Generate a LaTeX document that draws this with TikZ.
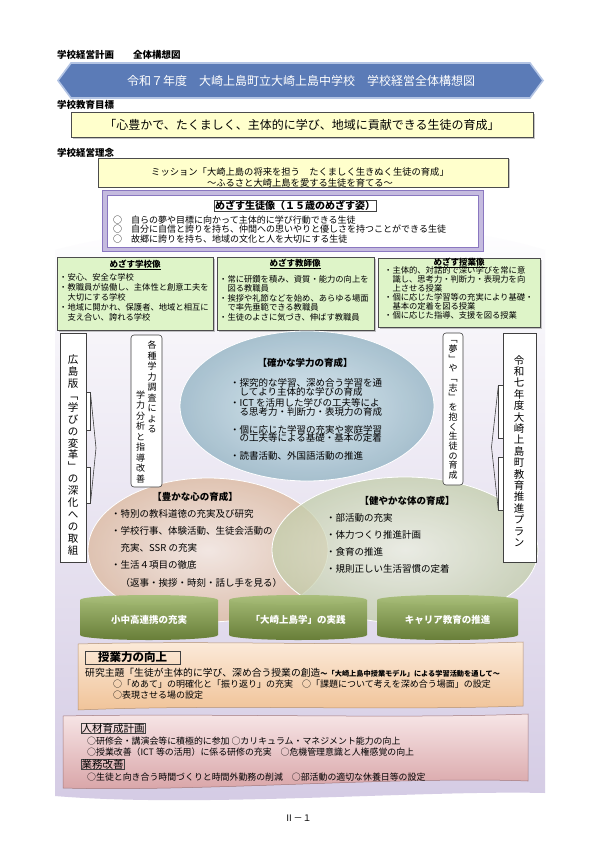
\documentclass[tikz,border=0pt]{standalone}
\usepackage{fontspec}
\setmainfont{Noto Sans CJK JP}
\usetikzlibrary{shadows}
\definecolor{kgNavy}{HTML}{5B7BB7}
\definecolor{kgEdge}{HTML}{B3C4E4}
\definecolor{kgCream}{HTML}{FFFFCC}
\definecolor{kgLeaf}{HTML}{DEF4C8}
\definecolor{kgViolet}{HTML}{8A77C0}
\definecolor{kgLav}{HTML}{D4CBE4}
\definecolor{kgSky}{HTML}{D6E7EE}
\definecolor{kgSkyDeep}{HTML}{9FBBCA}
\definecolor{kgSand}{HTML}{F5E8DF}
\definecolor{kgSandDeep}{HTML}{DDBBA2}
\definecolor{kgSage}{HTML}{EBEFE0}
\definecolor{kgSageDeep}{HTML}{C2CDAA}
\definecolor{kgOlive}{HTML}{7A9442}
\definecolor{kgOliveLite}{HTML}{A9BE7C}
\definecolor{kgApricot}{HTML}{FCEBDB}
\definecolor{kgApricotDeep}{HTML}{F0C398}
\definecolor{kgRose}{HTML}{F7E6E7}
\definecolor{kgRoseDeep}{HTML}{D8A3A6}
\tikzset{
  kg head/.style={font=\fontsize{9.5}{10}\selectfont\bfseries, anchor=west, inner sep=0pt},
  kg panel/.style={draw=black!70, line width=0.6pt, drop shadow={shadow xshift=1.5pt, shadow yshift=-1.5pt, fill=black!45}},
  kg line/.style={anchor=west, inner sep=0pt, text height=0.8em, text depth=0.2em},
  kg title/.style={inner sep=0pt, font=\fontsize{8.5}{9}\selectfont\bfseries},
  kg tate/.style={align=center, inner sep=0pt},
  kg tag/.style={draw=black!75, line width=0.6pt, inner sep=0.8pt},
  kg frame/.style={draw=black!75, fill=white, line width=0.6pt},
  kg cyl text/.style={text=white, font=\fontsize{9.5}{10}\selectfont\bfseries},
}
\begin{document}
\begin{tikzpicture}[x=1pt,y=-1pt]
  \useasboundingbox (0,0) rectangle (595,842);
  \fill[white] (0,0) rectangle (595,842);
  % Banner and school goal
  \node[kg head] (planHead) at (57,55) {学校経営計画　　全体構想図};
  \fill[kgNavy, draw=kgEdge, line width=1.6pt] (58,80.5) -- (71,63) -- (530,63) -- (543,80.5) -- (530,98) -- (71,98) -- cycle;
  \node[text=white, font=\fontsize{12}{12}\selectfont] (bannerTitle) at (301,81) {令和７年度　大崎上島町立大崎上島中学校　学校経営全体構想図};
  \node[kg head] (goalHead) at (57,105) {学校教育目標};
  \draw[kg panel, fill=kgCream] (71,112.5) rectangle (533,137.5);
  \node[font=\fontsize{12}{12}\selectfont] (goalText) at (302,125) {「心豊かで、たくましく、主体的に学び、地域に貢献できる生徒の育成」};
  \node[kg head] (ideaHead) at (57,153) {学校経営理念};
  % Lavender backdrop
  \shade[top color=white, bottom color=kgLav] (55,250) .. controls (200,212) and (420,212) .. (545,250) -- (545,793) .. controls (420,790) and (200,808) .. (55,796) -- cycle;
  \draw[kg panel, fill=kgCream] (98,158) rectangle (508,187);
  \node[font=\fontsize{9.3}{11}\selectfont, align=center] (mission) at (300,177.5) {ミッション「大崎上島の将来を担う　たくましく生きぬく生徒の育成」\\～ふるさと大崎上島を愛する生徒を育てる～};
  % Student image
  \draw[fill=kgViolet!50, draw=kgViolet, line width=0.6pt] (102,190) rectangle (483,251);
  \draw[fill=white, draw=kgViolet, line width=0.8pt] (107.5,195.5) rectangle (478,247);
  \node[kg tag, font=\fontsize{10}{10}\selectfont\bfseries] (studentTitle) at (295,206) {めざす生徒像（１５歳のめざす姿）};
  \foreach \t [count=\i] in {自らの夢や目標に向かって主体的に学び行動できる生徒, 自分に自信と誇りを持ち、仲間への思いやりと優しさを持つことができる生徒, 故郷に誇りを持ち、地域の文化と人を大切にする生徒}
    \node[kg line, font=\fontsize{9}{9}\selectfont] (studentL\i) at (113,210.5+9.6*\i) {○　\t};
  % School, teacher and lesson images
  \draw[kg panel, fill=kgLeaf] (57,257) rectangle (213,330);
  \draw[kg panel, fill=kgLeaf] (217,257) rectangle (374,330);
  \draw[kg panel, fill=kgLeaf] (378,258) rectangle (540,327);
  \node[kg title] (schoolTitle) at (135,265) {\underline{めざす学校像}};
  \node[kg title] (teacherTitle) at (295,264) {\underline{めざす教師像}};
  \node[kg title] (lessonTitle) at (459,263) {\underline{めざす授業像}};
  \foreach \t [count=\i] in {・安心、安全な学校, ・教職員が協働し、主体性と創意工夫を, 　大切にする学校, ・地域に開かれ、保護者、地域と相互に, 　支え合い、誇れる学校}
    \node[kg line, font=\fontsize{8.3}{9}\selectfont] (schoolL\i) at (59,267.7+10*\i) {\t};
  \foreach \t [count=\i] in {・常に研鑽を積み、資質・能力の向上を, 　図る教職員, ・挨拶や礼節などを始め、あらゆる場面, 　で率先垂範できる教職員, ・生徒のよさに気づき、伸ばす教職員}
    \node[kg line, font=\fontsize{8.3}{9}\selectfont] (teacherL\i) at (219,269.5+9.5*\i) {\t};
  \foreach \t [count=\i] in {・主体的、対話的で深い学びを常に意, 　識し、思考力・判断力・表現力を向, 　上させる授業, ・個に応じた学習等の充実により基礎・, 　基本の定着を図る授業, ・個に応じた指導、支援を図る授業}
    \node[kg line, font=\fontsize{8.3}{9}\selectfont] (lessonL\i) at (384,261.5+9*\i) {\t};
  % Three overlapping circles
  \shade[inner color=kgSky, outer color=kgSkyDeep, opacity=0.9] (307,406) ellipse [x radius=127, y radius=75];
  \draw[white, line width=0.8pt] (307,406) ellipse [x radius=127, y radius=75];
  \shade[inner color=kgSand, outer color=kgSandDeep, opacity=0.8] (208,550) ellipse [x radius=120, y radius=72];
  \draw[white, line width=0.8pt] (208,550) ellipse [x radius=120, y radius=72];
  \shade[inner color=kgSage, outer color=kgSageDeep, opacity=0.75] (405,550) ellipse [x radius=133, y radius=73];
  \draw[white, line width=0.8pt] (405,550) ellipse [x radius=133, y radius=73];
  \node[kg title, font=\fontsize{9.5}{10}\selectfont\bfseries] (academicTitle) at (305,363) {【確かな学力の育成】};
  \foreach \y/\t [count=\i] in {383/・探究的な学習、深め合う学習を通, 392/　してより主体的な学びの育成, 403/・ICT を活用した学びの工夫等によ, 412/　る思考力・判断力・表現力の育成, 430/・個に応じた学習の充実や家庭学習, 438.5/　の工夫等による基礎・基本の定着, 456/・読書活動、外国語活動の推進}
    \node[kg line, font=\fontsize{9.5}{10}\selectfont] (academicL\i) at (230,\y) {\t};
  \node[kg title, font=\fontsize{9.5}{10}\selectfont\bfseries] (heartTitle) at (195,497) {【豊かな心の育成】};
  \foreach \t [count=\i] in {・特別の教科道徳の充実及び研究, ・学校行事、体験活動、生徒会活動の, 　充実、SSR の充実, ・生活４項目の徹底, 　（返事・挨拶・時刻・話し手を見る）}
    \node[kg line, font=\fontsize{9.5}{10}\selectfont] (heartL\i) at (111,496.7+17.3*\i) {\t};
  \node[kg title, font=\fontsize{9.5}{10}\selectfont\bfseries] (bodyTitle) at (407,501) {【健やかな体の育成】};
  \foreach \t [count=\i] in {・部活動の充実, ・体力つくり推進計画, ・食育の推進, ・規則正しい生活習慣の定着}
    \node[kg line, font=\fontsize{9.5}{10}\selectfont] (bodyL\i) at (326,501+17*\i) {\t};
  % Side labels in vertical writing
  \draw[kg frame] (60,333) rectangle (86,562);
  \draw[kg frame] (86,392) rectangle (90.5,430);
  \draw[kg frame] (86,467) rectangle (90.5,503);
  \draw[black!75, line width=0.6pt] (90.5,393) -- (96,448) -- (90.5,503);
  \node[kg tate, font=\fontsize{10.5}{11.9}\selectfont] (reformTate) at (73,455) {広\\島\\版\\﹁\\学\\び\\の\\変\\革\\﹂\\の\\深\\化\\へ\\の\\取\\組};
  \draw[kg frame] (503,333) rectangle (536,562);
  \draw[kg frame] (498.3,385) rectangle (503,438);
  \draw[kg frame] (498.3,457) rectangle (503,510);
  \draw[black!75, line width=0.6pt] (498.3,386) -- (491.5,447) -- (498.3,510);
  \node[kg tate, font=\fontsize{10.5}{11.4}\selectfont] (planTate) at (519,451) {令\\和\\七\\年\\度\\大\\崎\\上\\島\\町\\教\\育\\推\\進\\プ\\ラ\\ン};
  \draw[kg frame, rounded corners=3pt] (131,335) rectangle (162,487);
  \node[kg tate, font=\fontsize{9}{10.5}\selectfont] (surveyTateA) at (152,387) {各\\種\\学\\力\\調\\査\\に\\よ\\る};
  \node[kg tate, font=\fontsize{9}{10.5}\selectfont] (surveyTateB) at (140.5,437) {学\\力\\分\\析\\と\\指\\導\\改\\善};
  \draw[kg frame, rounded corners=3pt] (443,333) rectangle (463,485);
  \node[kg tate, font=\fontsize{9}{9.7}\selectfont] (dreamTate) at (453,410) {﹁\\夢\\﹂\\や\\﹁\\志\\﹂\\を\\抱\\く\\生\\徒\\の\\育\\成};
  % Cylinders
  \foreach \xa/\xb/\nm/\txt in {80/218/linkCyl/小中高連携の充実, 229/367/localCyl/「大崎上島学」の実践, 377/518/careerCyl/キャリア教育の推進} {
    \shade[top color=kgOliveLite!80!kgOlive, bottom color=kgOlive!85!black] (\xa,600) -- (\xa,635) arc[start angle=180, end angle=0, x radius={(\xb-\xa)/2}, y radius=5] -- (\xb,600) -- cycle;
    \shade[top color=kgOliveLite, bottom color=kgOliveLite!70!kgOlive] ({(\xa+\xb)/2},600) ellipse [x radius={(\xb-\xa)/2}, y radius=5];
    \node[kg cyl text] (\nm) at ({(\xa+\xb)/2},620) {\txt};
  }
  % Lesson improvement
  \shadedraw[top color=kgApricot, bottom color=kgApricotDeep, draw=kgApricotDeep!75!black, line width=0.5pt] (78,644) .. controls (220,640) and (380,647) .. (523,642) -- (523,706) .. controls (380,711) and (220,704) .. (78,710) -- cycle;
  \node[kg tag, font=\fontsize{11.5}{12}\selectfont\bfseries, minimum width=95pt, minimum height=13pt, inner sep=0pt] (powerTitle) at (132.5,657.5) {授業力の向上};
  \node[kg line] (themeLine) at (85,673) {{\fontsize{9.8}{10}\selectfont 研究主題「生徒が主体的に学び、深め合う授業の創造}{\fontsize{7.2}{10}\selectfont\bfseries ～「大崎上島中授業モデル」による学習活動を通して～}};
  \node[kg line, font=\fontsize{9}{10}\selectfont] (themeL1) at (113,684) {○「めあて」の明確化と「振り返り」の充実　○「課題について考えを深め合う場面」の設定};
  \node[kg line, font=\fontsize{9}{10}\selectfont] (themeL2) at (113,695.5) {○表現させる場の設定};
  % Staff development and work reform
  \shadedraw[top color=kgRose, bottom color=kgRoseDeep, draw=kgRoseDeep!75!black, line width=0.5pt] (63,716) .. controls (200,713) and (400,719) .. (528,714) -- (528,781) .. controls (400,776) and (200,792) .. (63,788) -- cycle;
  \node[kg tag, anchor=west, font=\fontsize{10.5}{11}\selectfont, inner sep=0.3pt] (staffTitle) at (81,728.5) {人材育成計画};
  \node[kg line, font=\fontsize{8.9}{10}\selectfont] (staffL1) at (87,741) {○研修会・講演会等に積極的に参加 ○カリキュラム・マネジメント能力の向上};
  \node[kg line, font=\fontsize{8.9}{10}\selectfont] (staffL2) at (87,752.5) {○授業改善（ICT 等の活用）に係る研修の充実　○危機管理意識と人権感覚の向上};
  \node[kg tag, anchor=west, font=\fontsize{10.5}{11}\selectfont, inner sep=0.3pt] (workTitle) at (81,764.5) {業務改善};
  \node[kg line, font=\fontsize{8.9}{10}\selectfont] (workL1) at (87,777) {○生徒と向き合う時間づくりと時間外勤務の削減　○部活動の適切な休養日等の設定};
  \node[font=\fontsize{9}{9}\selectfont] (pageNo) at (298,818) {Ⅱ－１};
\end{tikzpicture}
\end{document}
